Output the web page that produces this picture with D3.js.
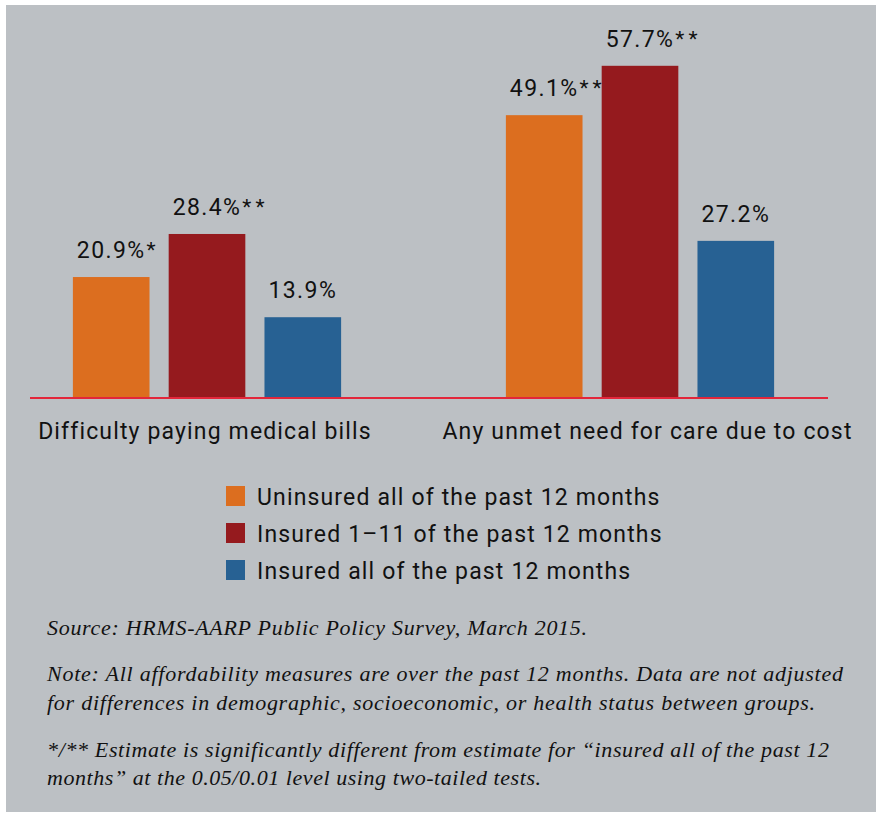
<!DOCTYPE html>
<html>
<head>
<meta charset="utf-8">
<script src="https://cdn.jsdelivr.net/npm/d3@7"></script>
<style>
  body { margin: 0; background: #fff; }
  svg text { fill: #111; }
</style>
</head>
<body>
<svg id="chart" width="876" height="814"></svg>
<script>
// data
const categories = ['Difficulty paying medical bills', 'Any unmet need for care due to cost']
const series = ['Uninsured all of the past 12 months', 'Insured 1\u201311 of the past 12 months', 'Insured all of the past 12 months']
const uninsured = [20.9, 49.1]
const insuredSome = [28.4, 57.7]
const insuredAll = [13.9, 27.2]
const marksUninsured = ['*', '**']
const marksInsuredSome = ['**', '**']
const marksInsuredAll = ['', '']
const colors = ['#dc6e1f', '#951a1e', '#276193']
const notes = [
  ['Source: HRMS-AARP Public Policy Survey, March 2015.'],
  ['Note: All affordability measures are over the past 12 months. Data are not adjusted',
   'for differences in demographic, socioeconomic, or health status between groups.'],
  ['*/** Estimate is significantly different from estimate for \u201cinsured all of the past 12',
   'months\u201d at the 0.05/0.01 level using two-tailed tests.']
]

const values = [uninsured, insuredSome, insuredAll]
const marks = [marksUninsured, marksInsuredSome, marksInsuredAll]

// layout of the note lines (baseline y, line width)
const noteY = [[635], [681, 710], [757, 785]]
const noteW = [[540], [796, 768], [782, 494]]

let svg = d3.select('#chart')
const sans = 'Roboto, "DejaVu Sans", sans-serif'
const serif = '"Liberation Serif", "DejaVu Serif", serif'

// grey panel
svg.append('rect')
   .attr('x', 6).attr('y', 5)
   .attr('width', 870).attr('height', 807)
   .attr('fill', '#bcc0c4')

let baseY = 397
let x0 = d3.scaleBand()
           .domain(categories)
           .range([-9.5, 856.5])
let x1 = d3.scaleBand()
           .domain(series)
           .range([0, x0.bandwidth()])
           .paddingInner(0.2)
           .paddingOuter(0.86)
let y = d3.scaleLinear()
          .domain([0, 60])
          .range([baseY, baseY - 60 * 5.74])

let rows = []
categories.forEach((c, ci) => {
    series.forEach((s, si) => {
        rows.push({cat: c, ser: s, si: si, v: values[si][ci], mark: marks[si][ci]})
    })
})

let g = svg.append('g')
g.selectAll('rect.bar')
 .data(rows)
 .enter().append('rect')
 .attr('class', 'bar')
 .attr('x', d => x0(d.cat) + x1(d.ser))
 .attr('y', d => y(d.v))
 .attr('width', x1.bandwidth())
 .attr('height', d => y(0) - y(d.v))
 .attr('fill', d => colors[d.si])

// value labels: number centred on the bar, stars trailing
rows.forEach(d => {
    let cx = x0(d.cat) + x1(d.ser) + x1.bandwidth() / 2
    let t = g.append('text')
             .attr('x', cx)
             .attr('y', y(d.v) - 19)
             .attr('text-anchor', 'middle')
             .style('font-family', sans)
             .style('font-size', '23px')
             .style('letter-spacing', '1.4px')
             .text(d3.format('.1f')(d.v) + '%')
    if (d.mark) {
        let w = t.node().getComputedTextLength()
        g.append('text')
         .attr('x', cx + w / 2 + 1)
         .attr('y', y(d.v) - 20)
         .style('font-family', sans)
         .style('font-size', '21px')
         .style('letter-spacing', '4px')
         .text(d.mark)
    }
})

// baseline
svg.append('line')
   .attr('x1', 30).attr('x2', 828)
   .attr('y1', baseY + 1).attr('y2', baseY + 1)
   .attr('stroke', '#e3263a')
   .attr('stroke-width', 2)

// category labels
svg.selectAll('text.cat')
   .data(categories)
   .enter().append('text')
   .attr('class', 'cat')
   .attr('x', (d, i) => x0(d) + x0.bandwidth() / 2 + (i ? 7.5 : -2))
   .attr('y', 439)
   .attr('text-anchor', 'middle')
   .style('font-family', sans)
   .style('font-size', '23px')
   .style('letter-spacing', '1.15px')
   .text(d => d)

// legend
let legend = svg.selectAll('g.legend')
                .data(series)
                .enter().append('g')
                .attr('class', 'legend')
                .attr('transform', (d, i) => 'translate(226,' + (486 + i * 37) + ')')
legend.append('rect')
      .attr('width', 19).attr('height', 20)
      .attr('fill', (d, i) => colors[i])
legend.append('text')
      .attr('x', 31).attr('y', 19)
      .style('font-family', sans)
      .style('font-size', '23px')
      .style('letter-spacing', '1.15px')
      .text(d => d)

// notes
notes.forEach((block, bi) => {
    block.forEach((line, li) => {
        svg.append('text')
           .attr('x', 47)
           .attr('y', noteY[bi][li])
           .attr('textLength', noteW[bi][li])
           .attr('lengthAdjust', 'spacing')
           .style('font-family', serif)
           .style('font-style', 'italic')
           .style('font-size', '22px')
           .text(line)
    })
})
</script>
</body>
</html>
